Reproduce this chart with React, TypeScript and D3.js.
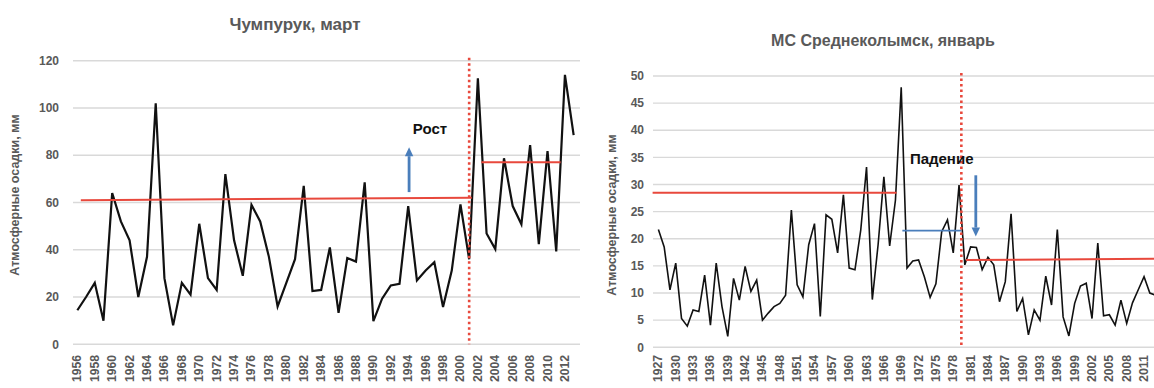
import React from "react";
import * as d3 from "d3";

// ---------- DATA ----------
const leftYears = d3.range(1956, 2014);
const leftValues = [
  14.4, 20, 26, 10, 64, 52, 44, 20, 37, 102, 28, 8, 26, 21, 51, 28, 23, 72, 44, 29,
  59, 52, 37, 16, 26, 36, 67, 22.5, 23, 41, 13.3, 36.5, 35, 68.5, 9.8, 19.3, 24.9, 25.6, 58.5, 27,
  31.2, 34.7, 15.8, 31.2, 59.2, 36, 112.6, 46.9, 40.3, 78.7, 58.5, 50.8, 84.3, 42.4, 81.8, 39.3, 114, 88.5,
];
const leftTicks = [0, 20, 40, 60, 80, 100, 120];
const leftTitle = "Чумпурук, март";

const rightYears = d3.range(1927, 2014);
const rightValues = [
  21.7, 18.5, 10.6, 15.5, 5.3, 3.9, 6.9, 6.6, 13.3, 4.1, 15.5, 7.5, 2.0, 12.7, 8.7, 14.9, 10.3, 12.4, 5.0, 6.3,
  7.5, 8.1, 9.6, 25.3, 11.5, 9.3, 18.9, 22.8, 5.7, 24.4, 23.6, 17.4, 28.1, 14.6, 14.3, 21.6, 33.2, 8.8, 18.9, 31.4,
  18.7, 27.1, 47.9, 14.6, 15.9, 16.1, 13.0, 9.2, 11.7, 21.3, 23.5, 17.4, 29.9, 15.2, 18.5, 18.4, 14.3, 16.6, 15.2, 8.4,
  12.1, 24.6, 6.6, 9.0, 2.3, 6.9, 5.0, 13.1, 7.8, 21.7, 5.6, 2.1, 8.1, 11.3, 11.8, 5.3, 19.2, 5.8, 6.0, 4.1,
  8.7, 4.4, 8.2, 10.6, 13.0, 10.0, 9.6,
];
const rightTicks = [0, 5, 10, 15, 20, 25, 30, 35, 40, 45, 50];
const rightTitle = "МС Среднеколымск, январь";

const yAxisLabel = "Атмосферные осадки, мм";

// mean segments: [fromYear, toYear, valueStart, valueEnd]
const leftMeans = [
  [1956.4, 2001.3, 61, 62],
  [2002.4, 2011.5, 77, 77],
];
const leftBreakYear = 2001;
const leftArrow = { year: 1994.1, from: 64.4, to: 83.4 };
const leftNote = { text: "Рост", year: 1996.5, value: 89 };

const rightRedMeans = [
  [1926.0, 1968.2, 28.5, 28.5],
  [1980.2, 2014.5, 16.1, 16.3],
];
const rightBlueMeans = [[1969.2, 1979.4, 21.5, 21.5]];
const rightBreakYear = 1979.4;
const rightArrow = { year: 1981.9, from: 31.7, to: 20.4 };
const rightNote = { text: "Падение", year: 1976, value: 33.8 };

// ---------- STYLE ----------
const W = 1154;
const H = 388;
const NARROW = "'Liberation Sans Narrow', 'Liberation Sans', Arial, sans-serif";
const GRAY = "#595959";
const GRID = "#d9d9d9";
const RED = "#e8483c";
const BLUE = "#4a7ebb";
const LABEL_TOP = 355;

type Panel = {
  years: number[];
  values: number[];
  ticks: number[];
  yMax: number;
  xRange: [number, number];
  yRange: [number, number];
  gridX: [number, number];
  labelEvery: number;
  lineW: number;
};

function makeScales(p: Panel) {
  const band = d3.scaleBand<number>().domain(p.years).range(p.xRange).padding(0);
  const bw = band.bandwidth();
  const first = p.years[0];
  const xc = (yr: number) => (band(yr) as number) + bw / 2;
  const xf = (yr: number) => xc(first) + (yr - first) * bw;
  const y = d3.scaleLinear().domain([0, p.yMax]).range(p.yRange);
  return { band, xc, xf, y };
}

function Arrow({ x, y1, y2, color }: { x: number; y1: number; y2: number; color: string }) {
  const dir = y2 < y1 ? -1 : 1;
  const head = 9;
  const hw = 4.2;
  return (
    <g>
      <line x1={x} x2={x} y1={y1} y2={y2 - dir * head} stroke={color} strokeWidth={2.8} />
      <path
        d={`M${x - hw},${y2 - dir * head} L${x + hw},${y2 - dir * head} L${x},${y2} Z`}
        fill={color}
      />
    </g>
  );
}

function PanelView({
  p,
  title,
  titleX,
  titleY,
  titleSize,
  axisLabelX,
  axisLabelY,
  tickX,
  redMeans,
  blueMeans,
  breakYear,
  arrow,
  note,
}: any) {
  const { xc, xf, y } = makeScales(p);
  const line = d3
    .line<number>()
    .x((_, i) => xc(p.years[i]))
    .y((d) => y(d));
  const [yBottom, yTop] = p.yRange;
  return (
    <g>
      {p.ticks.map((t: number) => (
        <g key={t}>
          <line x1={p.gridX[0]} x2={p.gridX[1]} y1={y(t)} y2={y(t)} stroke={GRID} strokeWidth={1.4} />
          <text
            x={tickX}
            y={y(t)}
            dy="0.35em"
            textAnchor="end"
            fontFamily={NARROW}
            fontSize={12}
            fontWeight="bold"
            fill={GRAY}
          >
            {t}
          </text>
        </g>
      ))}
      {p.years
        .filter((_: number, i: number) => i % p.labelEvery === 0)
        .map((yr: number) => (
          <text
            key={yr}
            transform={`translate(${xc(yr) + 4},${LABEL_TOP}) rotate(-90)`}
            textAnchor="end"
            fontFamily={NARROW}
            fontSize={12}
            fontWeight="bold"
            fill={GRAY}
            textLength={27}
            lengthAdjust="spacingAndGlyphs"
          >
            {yr}
          </text>
        ))}
      <path d={line(p.values) || ""} fill="none" stroke="#111" strokeWidth={p.lineW} strokeLinejoin="miter" />
      {redMeans.map((m: number[], i: number) => (
        <line key={"r" + i} x1={xf(m[0])} x2={Math.min(xf(m[1]), W)} y1={y(m[2])} y2={y(m[3])} stroke={RED} strokeWidth={2} />
      ))}
      {blueMeans.map((m: number[], i: number) => (
        <line key={"b" + i} x1={xf(m[0])} x2={xf(m[1])} y1={y(m[2])} y2={y(m[3])} stroke={BLUE} strokeWidth={1.6} />
      ))}
      <line
        x1={xf(breakYear)}
        x2={xf(breakYear)}
        y1={yTop - 3}
        y2={yBottom}
        stroke={RED}
        strokeWidth={2.6}
        strokeDasharray="2.5,3"
      />
      <Arrow x={xf(arrow.year)} y1={y(arrow.from)} y2={y(arrow.to)} color={BLUE} />
      <text
        x={xf(note.year)}
        y={y(note.value)}
        textAnchor="middle"
        fontFamily={NARROW}
        fontSize={15}
        fontWeight="bold"
        fill="#111"
      >
        {note.text}
      </text>
      <text
        x={titleX}
        y={titleY}
        textAnchor="middle"
        fontFamily={NARROW}
        fontSize={titleSize}
        fontWeight="bold"
        fill={GRAY}
      >
        {title}
      </text>
      <text
        transform={`translate(${axisLabelX},${axisLabelY}) rotate(-90)`}
        textAnchor="middle"
        dy="0.35em"
        fontFamily={NARROW}
        fontSize={12.5}
        fontWeight="bold"
        fill={GRAY}
      >
        {yAxisLabel}
      </text>
    </g>
  );
}

export default function App() {
  const left: Panel = {
    years: leftYears,
    values: leftValues,
    ticks: leftTicks,
    yMax: 120,
    xRange: [73, 578],
    yRange: [344.3, 60.7],
    gridX: [73, 580],
    labelEvery: 2,
    lineW: 2.2,
  };
  const right: Panel = {
    years: rightYears,
    values: rightValues,
    ticks: rightTicks,
    yMax: 50,
    xRange: [655.5, 1158.5],
    yRange: [347.3, 76],
    gridX: [653, W],
    labelEvery: 3,
    lineW: 1.6,
  };
  return (
    <svg
      width={W}
      height={H}
      viewBox={`0 0 ${W} ${H}`}
      style={{ position: "absolute", left: 0, top: 0, background: "#fff" }}
    >
      <rect x={0} y={0} width={W} height={H} fill="#fff" />
      <PanelView
        p={left}
        title={leftTitle}
        titleX={295}
        titleY={30}
        titleSize={17}
        axisLabelX={15}
        axisLabelY={195}
        tickX={59}
        redMeans={leftMeans}
        blueMeans={[]}
        breakYear={leftBreakYear}
        arrow={leftArrow}
        note={leftNote}
      />
      <PanelView
        p={right}
        title={rightTitle}
        titleX={883}
        titleY={46}
        titleSize={16}
        axisLabelX={612}
        axisLabelY={215}
        tickX={644}
        redMeans={rightRedMeans}
        blueMeans={rightBlueMeans}
        breakYear={rightBreakYear}
        arrow={rightArrow}
        note={rightNote}
      />
    </svg>
  );
}
